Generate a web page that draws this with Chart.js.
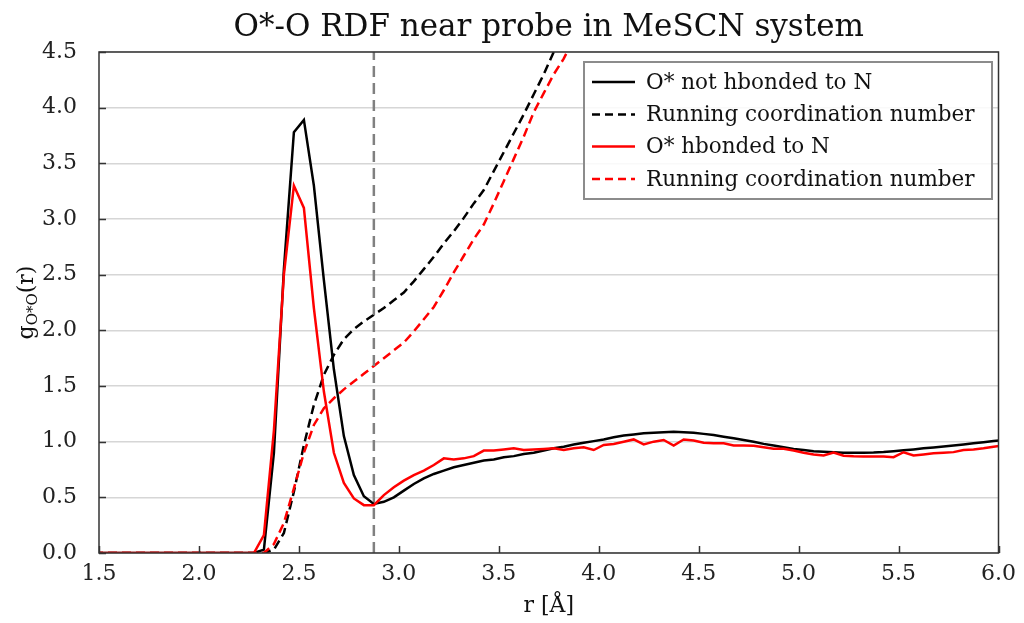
<!DOCTYPE html>
<html>
<head>
<meta charset="utf-8">
<script src="https://cdn.jsdelivr.net/npm/chart.js@4.4.1/dist/chart.umd.min.js"></script>
<style>
  html, body { margin: 0; padding: 0; background: #ffffff; }
  #c { display: block; }
</style>
</head>
<body>
<canvas id="c" width="1024" height="623"></canvas>
<script>
// ---- data ----
const chartTitle = "O*-O RDF near probe in MeSCN system";
const xTitle = "r [Å]";
const yTitleMain = "g";
const yTitleSub = "O*O";
const yTitleTail = "(r)";

const xMin = 1.5, xMax = 6.0, xStep = 0.5;
const yMin = 0.0, yMax = 4.5, yStep = 0.5;
const cutoff = 2.875;

const r = [1.475,1.525,1.575,1.625,1.675,1.725,1.775,1.825,1.875,1.925,
  1.975,2.025,2.075,2.125,2.175,2.225,2.275,2.325,2.375,2.425,
  2.475,2.525,2.575,2.625,2.675,2.725,2.775,2.825,2.875,2.925,
  2.975,3.025,3.075,3.125,3.175,3.225,3.275,3.325,3.375,3.425,
  3.475,3.525,3.575,3.625,3.675,3.725,3.775,3.825,3.875,3.925,
  3.975,4.025,4.075,4.125,4.175,4.225,4.275,4.325,4.375,4.425,
  4.475,4.525,4.575,4.625,4.675,4.725,4.775,4.825,4.875,4.925,
  4.975,5.025,5.075,5.125,5.175,5.225,5.275,5.325,5.375,5.425,
  5.475,5.525,5.575,5.625,5.675,5.725,5.775,5.825,5.875,5.925,
  5.975,6.025];

const labels = ["O* not hbonded to N", "Running coordination number", "O* hbonded to N", "Running coordination number"];

// g(r), O* not hbonded to N
const gNotH = [0,0,0,0,0,0,0,0,0,0,0,0,0,0,0,0,0,
  0.03,0.9,2.55,3.78,3.89,3.30,2.45,1.65,1.05,0.70,
  0.51,0.44,0.46,0.50,0.56,0.62,0.67,0.71,0.74,0.77,
  0.79,0.81,0.83,0.84,0.86,0.87,0.89,0.90,0.92,0.94,
  0.955,0.975,0.99,1.005,1.02,1.04,1.055,1.065,1.075,1.08,
  1.085,1.09,1.085,1.08,1.07,1.06,1.045,1.03,1.015,1.0,
  0.98,0.965,0.95,0.935,0.925,0.915,0.91,0.905,0.90,0.90,
  0.90,0.903,0.908,0.915,0.922,0.93,0.94,0.948,0.956,0.965,
  0.975,0.985,0.995,1.005,1.015];

// running coordination number, O* not hbonded
const cnNotH = [0,0,0,0,0,0,0,0,0,0,0,0,0,0,0,0,0,0,
  0.03,0.18,0.55,0.97,1.33,1.60,1.78,1.92,2.01,2.08,
  2.14,2.20,2.27,2.34,2.44,2.55,2.66,2.78,2.89,3.01,
  3.14,3.26,3.43,3.60,3.77,3.94,4.12,4.30,4.50,4.70];

// g(r), O* hbonded to N
const gH = [0,0,0,0,0,0,0,0,0,0,0,0,0,0,0,0,0,
  0.16,1.1,2.5,3.30,3.10,2.20,1.45,0.90,0.63,0.49,
  0.43,0.43,
  0.52,0.59,0.65,0.70,0.74,0.79,0.85,0.84,0.85,0.87,
  0.92,0.92,0.93,0.94,0.925,0.93,0.935,0.94,0.925,0.94,
  0.95,0.925,0.97,0.98,1.0,1.02,0.975,1.0,1.015,0.965,
  1.02,1.01,0.99,0.986,0.986,0.966,0.965,0.963,0.95,0.936,
  0.936,0.92,0.90,0.885,0.876,0.903,0.873,0.868,0.867,0.867,
  0.866,0.861,0.905,0.876,0.885,0.895,0.90,0.906,0.925,0.93,
  0.94,0.955,0.965];

// running coordination number, O* hbonded
const cnH = [0,0,0,0,0,0,0,0,0,0,0,0,0,0,0,0,0,0,
  0.08,0.27,0.58,0.90,1.15,1.30,1.39,1.47,1.54,1.61,
  1.68,1.75,1.82,1.89,1.99,2.10,2.21,2.36,2.52,2.67,
  2.82,2.95,3.14,3.34,3.54,3.74,3.96,4.13,4.30,4.44,
  4.62,4.80];

// ---- build chart ----
const FONT = "'DejaVu Serif', 'Liberation Serif', serif";
const toPts = vals => vals.map((v, i) => ({ x: r[i], y: v }));

const series = [
  { label: labels[0], data: toPts(gNotH), color: '#000000', dash: [], order: 3 },
  { label: labels[1], data: toPts(cnNotH), color: '#000000', dash: [9, 5], order: 2 },
  { label: labels[2], data: toPts(gH), color: '#ff0000', dash: [], order: 1 },
  { label: labels[3], data: toPts(cnH), color: '#ff0000', dash: [9, 5], order: 0 }
];

const datasets = series.map(s => ({
  label: s.label,
  data: s.data,
  borderColor: s.color,
  backgroundColor: s.color,
  borderWidth: 2.5,
  borderDash: s.dash,
  pointRadius: 0,
  tension: 0,
  fill: false,
  order: s.order
}));
datasets.push({
  label: '__cutoff',
  data: [{ x: cutoff, y: yMin }, { x: cutoff, y: yMax }],
  borderColor: '#808080',
  borderWidth: 2.5,
  borderDash: [11, 6],
  pointRadius: 0,
  fill: false,
  order: -1
});

const decor = {
  id: 'decor',
  afterDraw(chart) {
    const ctx = chart.ctx;
    const a = chart.chartArea;
    const xs = chart.scales.x, ys = chart.scales.y;
    ctx.save();

    // frame
    ctx.strokeStyle = '#333333';
    ctx.lineWidth = 1.5;
    ctx.setLineDash([]);
    ctx.strokeRect(a.left, a.top, a.right - a.left, a.bottom - a.top);

    // inward ticks
    ctx.beginPath();
    for (let v = xMin; v <= xMax + 1e-9; v += xStep) {
      const px = Math.round(xs.getPixelForValue(v)) + 0.5;
      ctx.moveTo(px, a.bottom);
      ctx.lineTo(px, a.bottom - 7);
    }
    for (let v = yMin; v <= yMax + 1e-9; v += yStep) {
      const py = Math.round(ys.getPixelForValue(v)) + 0.5;
      ctx.moveTo(a.left, py);
      ctx.lineTo(a.left + 7, py);
    }
    ctx.stroke();

    // title
    ctx.fillStyle = '#111111';
    ctx.font = "31px " + FONT;
    ctx.textAlign = 'center';
    ctx.textBaseline = 'middle';
    ctx.fillText(chartTitle, (a.left + a.right) / 2, 28);

    // x title
    ctx.font = "22px " + FONT;
    ctx.fillText(xTitle, (a.left + a.right) / 2, 606);

    // y title (rotated, with subscript)
    ctx.save();
    ctx.translate(26, (a.top + a.bottom) / 2);
    ctx.rotate(-Math.PI / 2);
    ctx.textBaseline = 'alphabetic';
    ctx.textAlign = 'left';
    const fMain = "22px " + FONT, fSub = "15px " + FONT;
    ctx.font = fMain; const w1 = ctx.measureText(yTitleMain).width;
    const w3 = ctx.measureText(yTitleTail).width;
    ctx.font = fSub; const w2 = ctx.measureText(yTitleSub).width;
    let x0 = -(w1 + w2 + w3) / 2;
    const base = 7;
    ctx.font = fMain; ctx.fillText(yTitleMain, x0, base); x0 += w1;
    ctx.font = fSub; ctx.fillText(yTitleSub, x0, base + 4); x0 += w2;
    ctx.font = fMain; ctx.fillText(yTitleTail, x0, base);
    ctx.restore();

    // legend
    const lx = 584, ly = 62, lw = 408, lh = 137;
    ctx.fillStyle = 'rgba(255,255,255,0.85)';
    ctx.fillRect(lx, ly, lw, lh);
    ctx.strokeStyle = '#8c8c8c';
    ctx.lineWidth = 2;
    ctx.strokeRect(lx, ly, lw, lh);
    const rows = [82, 114.5, 146.5, 179];
    ctx.font = "21.5px " + FONT;
    ctx.textAlign = 'left';
    ctx.textBaseline = 'middle';
    series.forEach((s, i) => {
      ctx.strokeStyle = s.color;
      ctx.lineWidth = 2.5;
      ctx.setLineDash(s.dash.length ? [8, 5] : []);
      ctx.beginPath();
      ctx.moveTo(592, rows[i]);
      ctx.lineTo(635, rows[i]);
      ctx.stroke();
      ctx.setLineDash([]);
      ctx.fillStyle = '#111111';
      ctx.fillText(s.label, 646, rows[i] + 1);
    });
    ctx.restore();
  }
};

new Chart(document.getElementById('c'), {
  type: 'line',
  data: { datasets },
  options: {
    responsive: false,
    animation: false,
    devicePixelRatio: 1,
    layout: { padding: { top: 52, right: 25, left: 0, bottom: 0 } },
    plugins: {
      legend: { display: false },
      title: { display: false },
      tooltip: { enabled: false }
    },
    scales: {
      x: {
        type: 'linear',
        min: xMin, max: xMax,
        afterFit: s => { s.height = 70; },
        grid: { display: false, drawTicks: false },
        border: { display: false },
        ticks: {
          stepSize: xStep,
          autoSkip: false,
          maxRotation: 0,
          padding: 8,
          color: '#222222',
          font: { family: FONT, size: 22 },
          callback: v => Number(v).toFixed(1)
        }
      },
      y: {
        type: 'linear',
        min: yMin, max: yMax,
        afterFit: s => { s.width = 99; },
        grid: { color: '#d6d6d6', lineWidth: 1.5, drawTicks: false },
        border: { display: false },
        ticks: {
          stepSize: yStep,
          padding: 22,
          color: '#222222',
          font: { family: FONT, size: 22 },
          callback: v => Number(v).toFixed(1)
        }
      }
    }
  },
  plugins: [decor]
});
</script>
</body>
</html>
